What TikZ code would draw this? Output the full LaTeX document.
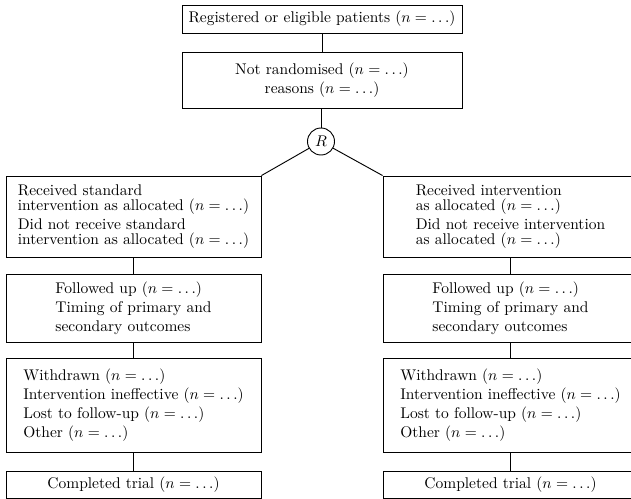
\documentclass[tikz,border=0pt]{standalone}
\newcommand{\pxl}{0.645pt}
\tikzset{
  boxa/.style={draw, line width=0.6pt, inner sep=0pt, align=left,
    font=\fontsize{10}{12.2}\selectfont},
  wide/.style={minimum width=280*\pxl},
  col/.style={minimum width=255*\pxl},
  conn/.style={line width=0.6pt},
}
\begin{document}
\begin{tikzpicture}[x=0.645pt, y=-0.645pt]
\useasboundingbox (0,0) rectangle (631,499);
\clip (0,0) rectangle (631,499);
% top
\node[boxa, wide, align=center, minimum height=28*\pxl] (top) at (322,19)
  {Registered or eligible patients ($n=\ldots$)};
\node[boxa, wide, align=center, minimum height=56*\pxl] (nr) at (322,80)
  {Not randomised ($n=\ldots$)\\ reasons ($n=\ldots$)};
\node[draw, circle, line width=0.6pt, inner sep=0pt, minimum size=27*\pxl] (R) at (321,141.5) {$R$};
% left column
\node[boxa, col, minimum height=81*\pxl] (l1) at (133.5,216.5)
  {Received standard\\[-2.5pt] intervention as allocated ($n=\ldots$)\\ Did not receive standard\\[-2.5pt] intervention as allocated ($n=\ldots$)};
\node[boxa, col, minimum height=68*\pxl] (l2) at (133.5,308)
  {Followed up ($n=\ldots$)\\ Timing of primary and\\ secondary outcomes};
\node[boxa, col, minimum height=94*\pxl] (l3) at (133.5,405)
  {Withdrawn ($n=\ldots$)\\ Intervention ineffective ($n=\ldots$)\\ Lost to follow-up ($n=\ldots$)\\ Other ($n=\ldots$)};
\node[boxa, col, align=center, minimum height=27*\pxl] (l4) at (133.5,484.5)
  {Completed trial ($n=\ldots$)};
% right column
\node[boxa, col, minimum height=81*\pxl] (r1) at (510.5,216.5)
  {Received intervention\\[-2.5pt] as allocated ($n=\ldots$)\\ Did not receive intervention\\[-2.5pt] as allocated ($n=\ldots$)};
\node[boxa, col, minimum height=68*\pxl] (r2) at (510.5,308)
  {Followed up ($n=\ldots$)\\ Timing of primary and\\ secondary outcomes};
\node[boxa, col, minimum height=94*\pxl] (r3) at (510.5,405)
  {Withdrawn ($n=\ldots$)\\ Intervention ineffective ($n=\ldots$)\\ Lost to follow-up ($n=\ldots$)\\ Other ($n=\ldots$)};
\node[boxa, col, align=center, minimum height=27*\pxl] (r4) at (510.5,484.5)
  {Completed trial ($n=\ldots$)};
% connectors
\draw[conn] (top.south) -- (nr.north);
\draw[conn] (nr.south -| R.north) -- (R.north);
\draw[conn] (R) -- (l1.north east);
\draw[conn] (R) -- (r1.north west);
\draw[conn] (l1) -- (l2);
\draw[conn] (l2) -- (l3);
\draw[conn] (l3) -- (l4);
\draw[conn] (r1) -- (r2);
\draw[conn] (r2) -- (r3);
\draw[conn] (r3) -- (r4);
\end{tikzpicture}
\end{document}
